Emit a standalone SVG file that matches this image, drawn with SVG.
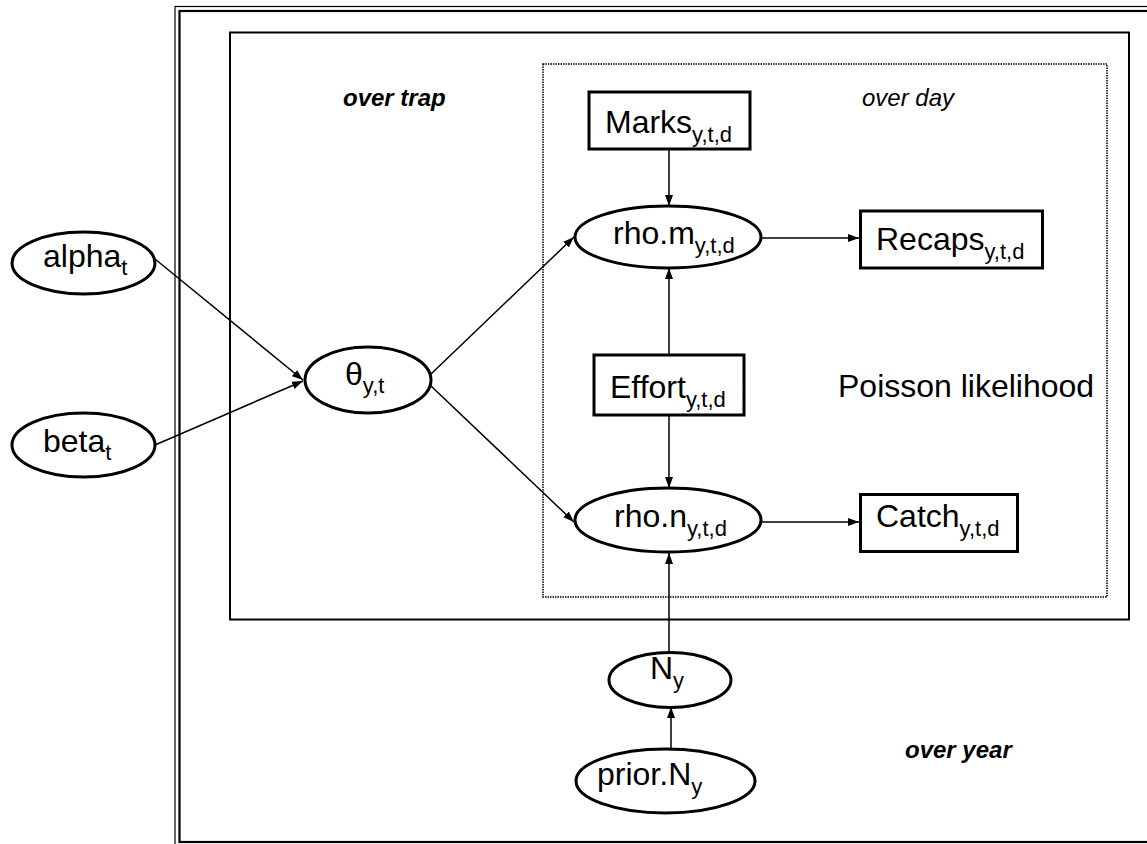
<svg xmlns="http://www.w3.org/2000/svg" width="1147" height="844" viewBox="0 0 1147 844">
<style>
  text { font-family: "Liberation Sans", Arial, sans-serif; fill: #000; }
  .lbl { font-size: 32px; }
  .sub { font-size: 22px; }
  .plate { font-size: 24px; font-style: italic; }
  .node { fill: #fff; stroke: #000; stroke-width: 3; }
  .edge { stroke: #000; stroke-width: 1.5; fill: none; marker-end: url(#ah); }
</style>
<defs>
  <marker id="ah" markerUnits="userSpaceOnUse" markerWidth="12" markerHeight="10" refX="11" refY="5" orient="auto">
    <path d="M0,1 L11,5 L0,9 Z" fill="#000"/>
  </marker>
</defs>
<rect width="1147" height="844" fill="#fff"/>
<g id="plates">
  <rect x="175" y="6.5" width="990" height="840" fill="none" stroke="#000" stroke-width="1.2"/>
  <rect x="179.5" y="11" width="980" height="831" fill="none" stroke="#000" stroke-width="2.2"/>
  <rect x="230" y="32.5" width="899" height="587" fill="none" stroke="#000" stroke-width="2"/>
  <rect x="543" y="64" width="564" height="533" fill="none" stroke="#000" stroke-width="1.5" stroke-dasharray="1.5,1"/>
  <text class="plate" x="343" y="106" font-weight="bold">over trap</text>
  <text class="plate" x="862" y="106">over day</text>
  <text class="plate" x="905" y="758" font-weight="bold">over year</text>
  <text class="lbl" x="838" y="397">Poisson likelihood</text>
</g>
<g id="connectors">
  <line class="edge" x1="155" y1="259" x2="303" y2="380"/>
  <line class="edge" x1="155" y1="445" x2="303" y2="381"/>
  <line class="edge" x1="431" y1="374" x2="574" y2="237"/>
  <line class="edge" x1="431" y1="386" x2="574" y2="522"/>
  <line class="edge" x1="669" y1="149" x2="669" y2="206"/>
  <line class="edge" x1="669" y1="355" x2="669" y2="268"/>
  <line class="edge" x1="669" y1="415" x2="669" y2="488"/>
  <line class="edge" x1="761" y1="238" x2="859" y2="238"/>
  <line class="edge" x1="761" y1="522" x2="859" y2="522"/>
  <line class="edge" x1="669" y1="652" x2="669" y2="553"/>
  <line class="edge" x1="671" y1="749" x2="671" y2="707"/>
</g>
<g id="alpha">
  <ellipse class="node" cx="83.5" cy="263" rx="71.5" ry="31"/>
  <text class="lbl" x="43" y="267">alpha<tspan class="sub" dy="8">t</tspan></text>
</g>
<g id="beta">
  <ellipse class="node" cx="83.5" cy="445" rx="71.5" ry="32"/>
  <text class="lbl" x="43" y="452">beta<tspan class="sub" dy="8">t</tspan></text>
</g>
<g id="theta">
  <ellipse class="node" cx="368" cy="380" rx="63" ry="33"/>
  <text class="lbl" x="345" y="385">θ<tspan class="sub" dy="8">y,t</tspan></text>
</g>
<g id="marks">
  <rect class="node" x="589" y="92" width="161" height="57"/>
  <text class="lbl" x="605" y="133">Marks<tspan class="sub" dy="9">y,t,d</tspan></text>
</g>
<g id="rho_m">
  <ellipse class="node" cx="668" cy="237" rx="93" ry="31"/>
  <text class="lbl" x="613" y="244">rho.m<tspan class="sub" dy="9">y,t,d</tspan></text>
</g>
<g id="recaps">
  <rect class="node" x="860.5" y="211" width="182" height="57"/>
  <text class="lbl" x="876" y="250">Recaps<tspan class="sub" dy="9">y,t,d</tspan></text>
</g>
<g id="effort">
  <rect class="node" x="594" y="355" width="150" height="60"/>
  <text class="lbl" x="610" y="398">Effort<tspan class="sub" dy="9">y,t,d</tspan></text>
</g>
<g id="rho_n">
  <ellipse class="node" cx="668" cy="520" rx="93" ry="32"/>
  <text class="lbl" x="614" y="527">rho.n<tspan class="sub" dy="9">y,t,d</tspan></text>
</g>
<g id="catch">
  <rect class="node" x="860.5" y="494.5" width="157" height="57"/>
  <text class="lbl" x="876" y="527">Catch<tspan class="sub" dy="9">y,t,d</tspan></text>
</g>
<g id="N">
  <ellipse class="node" cx="670" cy="680" rx="61" ry="27.5"/>
  <text class="lbl" x="650" y="679">N<tspan class="sub" dy="9">y</tspan></text>
</g>
<g id="priorN">
  <ellipse class="node" cx="665.5" cy="781" rx="89.5" ry="32"/>
  <text class="lbl" x="597" y="785">prior.N<tspan class="sub" dy="9">y</tspan></text>
</g>
</svg>
